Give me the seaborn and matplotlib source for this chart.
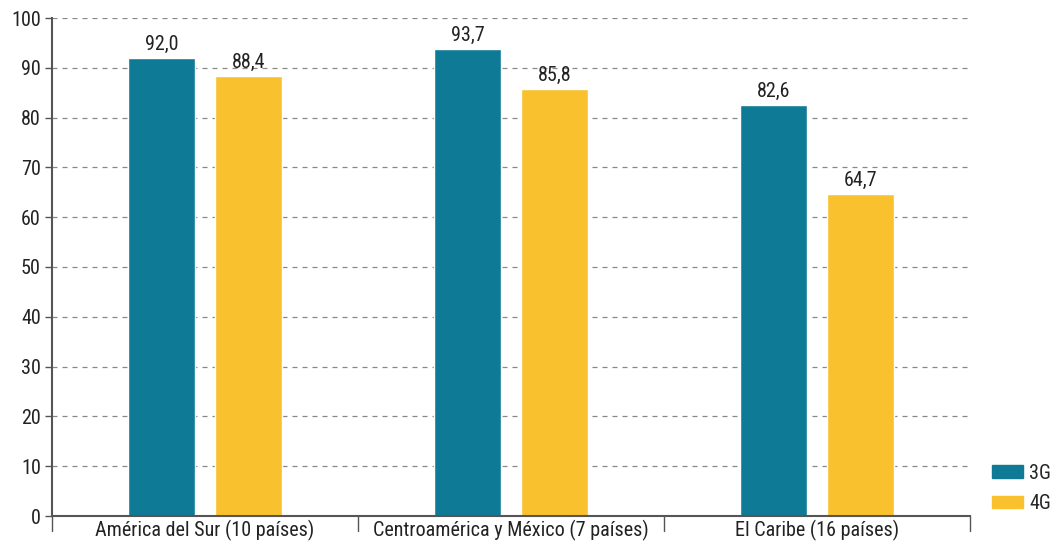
import pandas as pd
import matplotlib.pyplot as plt
import seaborn as sns
from matplotlib import font_manager
from matplotlib.patches import Patch

regions = ["América del Sur (10 países)", "Centroamérica y México (7 países)", "El Caribe (16 países)"]
tech = ["3G", "4G"]
cov_3g = [92.0, 93.7, 82.6]
cov_4g = [88.4, 85.8, 64.7]
colors = {"3G": "#0f7a96", "4G": "#fac12f"}

df = pd.DataFrame({
    "Region": regions * 2,
    "Tech": ["3G"] * 3 + ["4G"] * 3,
    "Value": cov_3g + cov_4g,
})

sns.set_theme(style="white")
# condensed face if installed
names = {f.name for f in font_manager.fontManager.ttflist}
family = ['DejaVu Sans']
for n in ['Roboto Condensed', 'Liberation Sans Narrow', 'Open Sans Condensed']:
    if n in names:
        family = [n, 'DejaVu Sans']
        break
plt.rcParams['font.family'] = family

fs = 14.5
fig = plt.figure(figsize=(10.51, 5.44), dpi=100)
ax = fig.add_axes([52 / 1051, 28 / 544, 918 / 1051, 498 / 544])

sns.barplot(data=df, x="Region", y="Value", hue="Tech", palette=colors,
            width=0.57, gap=0.23, ax=ax, legend=False, saturation=1)

for c in ax.containers:
    ax.bar_label(c, labels=[f"{v:.1f}".replace(".", ",") for v in c.datavalues],
                 padding=3, fontsize=fs, color="#222222")

ax.set_ylim(0, 100)
ax.set_xlim(-0.5, 2.5)
ax.set_yticks(range(0, 101, 10))
ax.set_xlabel("")
ax.set_ylabel("")
ax.yaxis.grid(True, linestyle=(0, (4, 4)), color="#888888", linewidth=0.9)
ax.set_axisbelow(True)
ax.tick_params(axis="y", labelsize=fs, length=5, width=1, pad=3, color="#555555", labelcolor="#222222", left=True)
ax.tick_params(axis="x", labelsize=fs, length=0, pad=3, labelcolor="#222222")
for b in [-0.5, 0.5, 1.5, 2.5]:
    ax.plot([b, b], [0, -0.03], transform=ax.get_xaxis_transform(), color="#555555",
            linewidth=1, clip_on=False)
for s in ["top", "right"]:
    ax.spines[s].set_visible(False)
for s in ["left", "bottom"]:
    ax.spines[s].set_color("#555555")
    ax.spines[s].set_linewidth(1.5)

handles = [Patch(color=colors[t], label=t) for t in tech]
fig.legend(handles=handles, loc="lower left", bbox_to_anchor=(992 / 1051, 31 / 544),
           frameon=False, fontsize=fs, handlelength=1.55, handleheight=0.6,
           labelspacing=0.55, handletextpad=0.3, borderpad=0, borderaxespad=0)

fig.savefig("out.png", dpi=100)
